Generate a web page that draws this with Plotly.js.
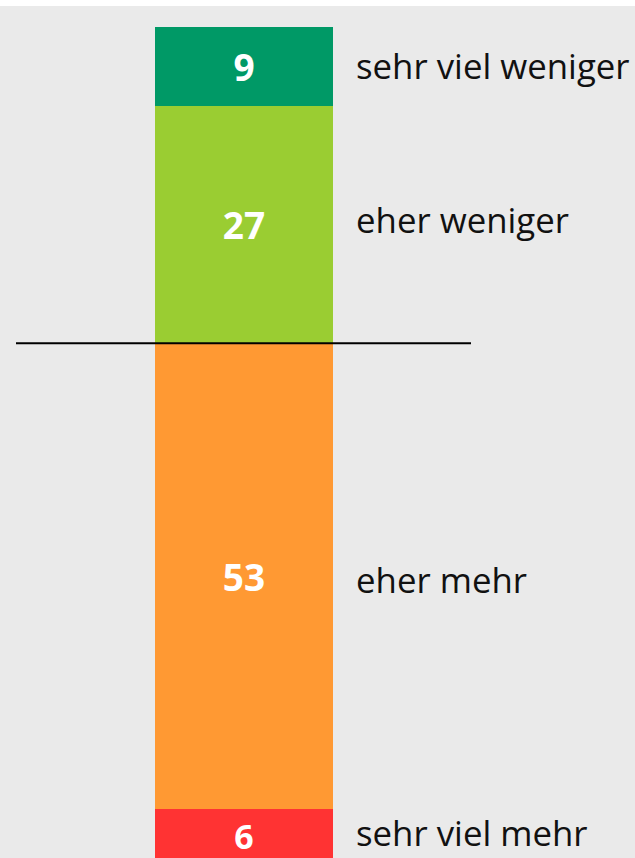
<!DOCTYPE html>
<html>
<head>
<meta charset="utf-8">
<script src="https://cdn.plot.ly/plotly-3.0.1.min.js"></script>
<style>html,body{margin:0;padding:0;background:#eaeaea;}#chart{width:635px;height:858px;}</style>
</head>
<body>
<div id="chart"></div>
<script>
const categories = ["sehr viel weniger", "eher weniger", "eher mehr", "sehr viel mehr"];
const values = [9, 27, 53, 6];
const colors = ["#009966", "#9acd32", "#ff9933", "#ff3333"];
const labelShift = [1, 5, -3, 3];

const traces = [];
let cum = 0;
const mids = [];
for (let i = 0; i < categories.length; i++) {
  mids.push(cum + values[i] / 2);
  cum += values[i];
  traces.push({
    type: "bar",
    x: [0],
    y: [values[i]],
    name: categories[i],
    width: 1,
    marker: {color: colors[i], line: {width: 0}},
    text: [String(values[i])],
    texttemplate: "%{text}",
    textposition: "inside",
    insidetextanchor: "middle",
    textangle: 0,
    textfont: {color: "#ffffff", size: 37, family: "Open Sans", weight: "bold"},
    hoverinfo: "skip"
  });
}

const pxPerUnit = 8.787;
const topPx = 27;
const H = 858;
const yr = [(H - topPx) / pxPerUnit, -topPx / pxPerUnit];
const barC = 244, barW = 178, W = 635;
const xr = [-barC / barW, (W - barC) / barW];

const annotations = categories.map((c, i) => ({
  text: c,
  xref: "paper", x: 354 / W, xanchor: "left",
  yref: "y", y: mids[i], yanchor: "middle", yshift: labelShift[i],
  showarrow: false,
  font: {family: "Open Sans", size: 34.8, color: "#111111"}
}));

const layout = {
  width: W, height: H,
  margin: {l: 0, r: 0, t: 0, b: 0},
  paper_bgcolor: "#eaeaea",
  plot_bgcolor: "#eaeaea",
  barmode: "stack",
  showlegend: false,
  xaxis: {range: xr, visible: false, fixedrange: true},
  yaxis: {range: yr, visible: false, fixedrange: true},
  annotations: annotations,
  shapes: [
    {type: "rect", xref: "paper", yref: "paper", x0: 0, x1: 1, y0: (H - 6) / H, y1: 1, fillcolor: "#ffffff", line: {width: 0}, layer: "below"},
    {type: "line", xref: "paper", yref: "y", x0: 16 / W, x1: 471 / W, y0: values[0] + values[1], y1: values[0] + values[1], line: {color: "#000000", width: 2}, layer: "above"}
  ]
};

Plotly.newPlot("chart", traces, layout, {displayModeBar: false, staticPlot: true});
</script>
</body>
</html>
